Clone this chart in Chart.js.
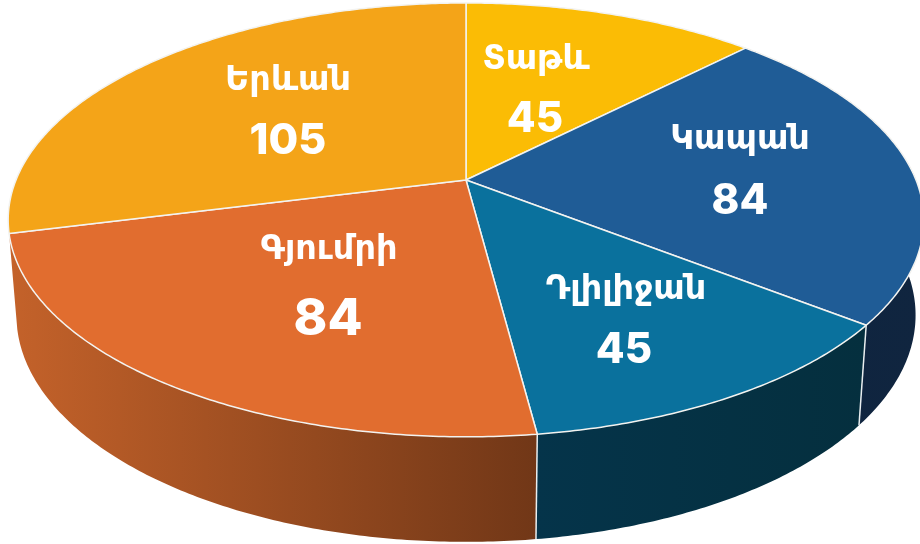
<!DOCTYPE html>
<html lang="hy">
<head>
<meta charset="utf-8">
<script src="https://cdn.jsdelivr.net/npm/chart.js@4"></script>
<style>
html,body{margin:0;padding:0;background:#fff;overflow:hidden}
#wrap{width:920px;height:544px}
</style>
</head>
<body>
<div id="wrap"><canvas id="c" width="920" height="544"></canvas></div>
<script>
const categories = ['Տաթև', 'Կապան', 'Դլիլիջան', 'Գյումրի', 'Երևան'];
const values = [45, 84, 45, 84, 105];
const sliceColors = ['#FBBC05', '#1F5C96', '#0A719D', '#E16D2F', '#F4A418'];
const wallColors = [null, ['#0E2440', '#10253F'], ['#05344A', '#052F3E'], ['#C4622A', '#713717'], null];
const nameFontSizes = [33.5, 33.5, 33.5, 33.5, 33.5];
const valueFontSizes = [42, 42, 42, 51, 43];
const namePos = [[536, 60], [740, 140], [626, 290], [329, 250], [288, 81]];
const valuePos = [[535, 119], [740, 201], [624, 350], [328, 320], [288, 141]];

const view = {cx: 466, apexY: 180, rx: 450, ry: 176.45, k: -0.184, depth: 100, depthRefY: 325, depthSlope: 0.045, shrink: 0.982};
function top3d(a) {
  const x = Math.cos(a), y = Math.sin(a), w = 1 + view.k * y;
  return [view.cx + view.rx * x / w, (view.apexY + view.ry * y) / w];
}
function bottom3d(a) {
  const p = top3d(a);
  return [view.cx + (p[0] - view.cx) * view.shrink, p[1] + view.depth + (p[1] - view.depthRefY) * view.depthSlope];
}
function samples(a0, a1) {
  const n = Math.max(2, Math.ceil(Math.abs(a1 - a0) / 0.01)), out = [];
  for (let i = 0; i <= n; i++) out.push(a0 + (a1 - a0) * i / n);
  return out;
}

Chart.ArcElement.prototype.draw = function (ctx) {
  const o = this.options;
  const pts = samples(this.startAngle, this.endAngle).map(top3d);
  ctx.save();
  ctx.beginPath();
  ctx.moveTo(view.cx, view.apexY);
  pts.forEach(p => ctx.lineTo(p[0], p[1]));
  ctx.closePath();
  ctx.fillStyle = o.backgroundColor;
  ctx.fill();
  ctx.lineJoin = 'round';
  ctx.strokeStyle = o.borderColor;
  ctx.lineWidth = o.borderWidth;
  ctx.stroke();
  ctx.restore();
};

const pie3d = {
  id: 'pie3d',
  beforeDatasetsDraw(chart) {
    const ctx = chart.ctx, arcs = chart.getDatasetMeta(0).data;
    arcs.forEach((arc, i) => {
      const wc = wallColors[i];
      if (!wc) return;
      const as = samples(arc.startAngle, arc.endAngle);
      const up = as.map(top3d), lo = as.map(bottom3d).reverse();
      const xs = up.concat(lo).map(p => p[0]);
      const g = ctx.createLinearGradient(Math.min(...xs), 0, Math.max(...xs), 0);
      g.addColorStop(0, wc[0]);
      g.addColorStop(1, wc[1]);
      ctx.save();
      ctx.beginPath();
      up.concat(lo).forEach((p, j) => j ? ctx.lineTo(p[0], p[1]) : ctx.moveTo(p[0], p[1]));
      ctx.closePath();
      ctx.fillStyle = g;
      ctx.fill();
      ctx.restore();
    });
    // white seams between the visible walls
    arcs.forEach((arc, i) => {
      if (!wallColors[i] || !wallColors[(i + 1) % arcs.length]) return;
      const a = top3d(arc.endAngle), b = bottom3d(arc.endAngle);
      ctx.save();
      ctx.strokeStyle = '#E9EEF0';
      ctx.lineWidth = 1.5;
      ctx.beginPath();
      ctx.moveTo(a[0], a[1]);
      ctx.lineTo(b[0], b[1]);
      ctx.stroke();
      ctx.restore();
    });
  },
  afterDatasetsDraw(chart) {
    const ctx = chart.ctx;
    ctx.save();
    ctx.fillStyle = '#fff';
    ctx.textAlign = 'center';
    ctx.textBaseline = 'middle';
    categories.forEach((name, i) => {
      ctx.font = 'bold ' + nameFontSizes[i] + 'px "DejaVu Sans"';
      ctx.fillText(name, namePos[i][0], namePos[i][1]);
      ctx.font = '800 ' + valueFontSizes[i] + 'px Inter';
      ctx.fillText(String(values[i]), valuePos[i][0], valuePos[i][1]);
    });
    ctx.restore();
  }
};

new Chart(document.getElementById('c'), {
  type: 'pie',
  data: {
    labels: categories,
    datasets: [{
      data: values,
      backgroundColor: sliceColors,
      borderColor: '#F3F3F0',
      borderWidth: 1.5
    }]
  },
  options: {
    responsive: false,
    animation: false,
    events: [],
    layout: {padding: 0},
    plugins: {legend: {display: false}, tooltip: {enabled: false}}
  },
  plugins: [pie3d]
});
</script>
</body>
</html>
